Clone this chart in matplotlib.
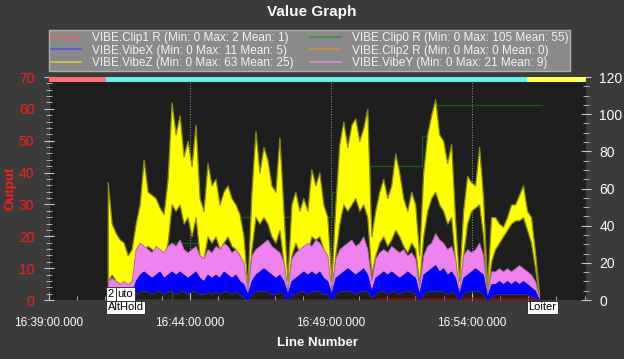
import numpy as np
import pandas as pd
import matplotlib
matplotlib.use('Agg')
import matplotlib.pyplot as plt
import matplotlib.dates as mdates
from matplotlib.lines import Line2D

plt.rcParams['font.family'] = ['Liberation Sans', 'DejaVu Sans']

day = '2000-01-01 '

# VIBE log, one sample every 8.5 s from 16:41:05
t_start = '16:41:05'
t_step = 8.5

# VibeZ (upper / lower of the trace band)
vibe_z_hi = [37, 24, 21, 19, 18, 14, 16, 24, 30, 44,
             34, 33, 32, 29, 27, 38, 62, 52, 58, 45,
             50, 42, 55, 32, 28, 43, 36, 38, 30, 34,
             36, 32, 30, 27, 20, 4, 34, 53, 40, 48,
             44, 36, 34, 51, 28, 6, 30, 34, 28, 32,
             28, 41, 36, 40, 30, 26, 6, 30, 49, 56,
             48, 55, 57, 50, 54, 60, 20, 28, 34, 38,
             32, 36, 46, 40, 32, 28, 34, 30, 14, 40,
             52, 58, 63, 52, 50, 43, 49, 25, 6, 28,
             39, 37, 36, 48, 32, 4, 26, 26, 24, 23,
             26, 30, 30, 33, 36, 28, 26, 15, 2]
vibe_z_lo = [6, 8, 6, 5, 5, 4, 5, 12, 14, 16,
             17, 16, 15, 14, 13, 18, 30, 28, 30, 24,
             26, 20, 26, 14, 13, 20, 18, 20, 16, 18,
             20, 17, 16, 14, 8, 1, 16, 26, 24, 26,
             24, 20, 18, 22, 12, 2, 14, 18, 15, 17,
             15, 20, 19, 20, 16, 12, 2, 14, 24, 30,
             28, 30, 32, 28, 30, 26, 8, 14, 18, 20,
             17, 19, 22, 20, 17, 15, 18, 16, 5, 20,
             28, 32, 34, 30, 28, 24, 26, 12, 2, 14,
             24, 28, 29, 30, 20, 1, 12, 16, 18, 20,
             22, 24, 25, 25, 26, 22, 18, 10, 1]
# VibeY upper
vibe_y_hi = [6, 7, 6, 5, 6, 5, 6, 16, 18, 17,
             16, 15, 17, 16, 15, 17, 18, 17, 19, 16,
             15, 16, 17, 14, 13, 16, 15, 17, 16, 18,
             17, 15, 16, 14, 12, 3, 14, 16, 17, 18,
             19, 17, 16, 15, 12, 3, 13, 15, 16, 17,
             18, 17, 19, 18, 16, 14, 3, 13, 16, 17,
             18, 19, 17, 18, 20, 16, 6, 13, 15, 16,
             15, 17, 16, 15, 16, 14, 15, 13, 4, 14,
             17, 18, 21, 19, 18, 16, 17, 13, 3, 14,
             16, 15, 16, 18, 14, 2, 9, 9, 10, 9,
             10, 9, 10, 11, 10, 9, 8, 6, 1]
# VibeX upper
vibe_x_hi = [1, 1, 1, 1, 1, 1, 2, 6, 8, 9,
             8, 7, 8, 9, 7, 8, 9, 8, 9, 8,
             7, 8, 9, 7, 6, 8, 7, 8, 7, 9,
             8, 7, 8, 6, 5, 2, 6, 8, 9, 10,
             9, 8, 7, 8, 6, 2, 6, 7, 8, 9,
             8, 9, 8, 9, 7, 6, 2, 7, 8, 9,
             10, 9, 8, 9, 10, 8, 3, 7, 8, 9,
             8, 9, 8, 7, 8, 9, 8, 7, 2, 8,
             9, 10, 11, 9, 10, 8, 9, 7, 2, 7,
             8, 9, 10, 9, 8, 1, 5, 5, 6, 5,
             6, 5, 6, 5, 6, 5, 4, 3, 0]
# lowest level of VibeX / VibeY
vibe_floor = [0, 0, 0, 0, 0, 0, 0, 2, 3, 3,
              3, 2, 3, 3, 2, 3, 3, 2, 3, 3,
              2, 3, 3, 2, 2, 3, 2, 3, 2, 3,
              3, 2, 3, 2, 1, 0, 2, 3, 3, 3,
              3, 2, 2, 3, 2, 0, 2, 2, 3, 3,
              2, 3, 3, 3, 2, 2, 0, 2, 3, 3,
              3, 3, 2, 3, 3, 3, 1, 2, 3, 3,
              2, 3, 3, 2, 3, 3, 3, 2, 0, 2,
              3, 3, 3, 3, 3, 2, 3, 2, 0, 2,
              3, 3, 3, 3, 2, 0, 1, 2, 2, 2,
              2, 2, 2, 2, 2, 2, 1, 1, 0]

# clip counters (right axis), step values
clip0_times = ['16:41:05', '16:43:22', '16:44:32', '16:49:02', '16:50:23', '16:52:14', '16:52:41', '16:56:29']
clip0_vals = [0, 30.5, 44.5, 58, 72, 88, 105, 105]
clip1_times = ['16:46:29', '16:50:38', '16:56:20']
clip1_vals = [0, 1, 1]
clip2_times = ['16:41:05', '16:56:29']
clip2_vals = [0, 0]

# flight modes
mode_times = ['16:39:00', '16:41:02', '16:55:57', '16:58:03']
mode_colors = ['#ff6f6f', '#5ff0f0', '#ffff5c']

x_range = ['16:39:00', '16:58:03']

legend_labels = ['VIBE.Clip1 R (Min: 0 Max: 2 Mean: 1)',
                 'VIBE.VibeX (Min: 0 Max: 11 Mean: 5)',
                 'VIBE.VibeZ (Min: 0 Max: 63 Mean: 25)',
                 'VIBE.Clip0 R (Min: 0 Max: 105 Mean: 55)',
                 'VIBE.Clip2 R (Min: 0 Max: 0 Mean: 0)',
                 'VIBE.VibeY (Min: 0 Max: 21 Mean: 9)']
legend_colors = ['#e86464', '#5555d8', '#d4cc3c', '#3f8f3f', '#c0943e', '#d58fd5']


def to_time(s):
    return pd.to_datetime([day + v for v in s])


t = pd.to_datetime(day + t_start) + pd.to_timedelta(np.arange(len(vibe_z_hi)) * t_step, unit='s')

bg = '#3b3b3b'
red = '#ff1a1a'
fig = plt.figure(figsize=(6.24, 3.59), dpi=100, facecolor=bg)

ax2 = fig.add_axes([0.0785, 0.1643, 0.8606, 0.6212])
ax = fig.add_axes([0.0785, 0.1643, 0.8606, 0.6212], sharex=ax2)
ax2.yaxis.tick_right()
ax2.yaxis.set_label_position('right')
ax2.set_facecolor('#1e1e1e')
ax.set_facecolor('none')
ax.xaxis.set_visible(False)
ax.yaxis.tick_left()

# right axis: clip counters
ax2.plot(to_time(clip0_times), clip0_vals, drawstyle='steps-post', color='#1d5a1d', lw=1)
ax2.plot(to_time(clip2_times), clip2_vals, color='#8a6a2a', lw=1)
ax2.plot(to_time(clip1_times), clip1_vals, drawstyle='steps-post', color='#a00000', lw=1)
ax2.set_ylim(0, 120)

# left axis: vibrations
ax.fill_between(t, vibe_z_lo, vibe_z_hi, color='#ffff00', lw=0.9, edgecolor='#8c8c14')
ax.fill_between(t, vibe_floor, vibe_y_hi, color='#ee82ee', lw=0.6, edgecolor='#a868a8')
ax.fill_between(t, vibe_floor, vibe_x_hi, color='#0000ff', lw=0.5, edgecolor='#0000c0')
ax.set_ylim(0, 70)

xr = to_time(x_range)
ax2.set_xlim(xr[0], xr[1])

# flight mode strip
mt = to_time(mode_times)
for i, c in enumerate(mode_colors):
    ax.axvspan(mt[i], mt[i + 1], ymin=0.978, ymax=1.0, color=c, lw=0, zorder=5)

# grid / ticks
ax2.xaxis.set_major_locator(mdates.MinuteLocator(byminute=[39, 44, 49, 54]))
ax2.xaxis.set_minor_locator(mdates.MinuteLocator())
ax2.xaxis.set_major_formatter(mdates.DateFormatter('%H:%M:%S.000'))
ax2.grid(axis='x', which='major', color='#9a9a9a', ls=':', lw=0.7)
ax2.tick_params(axis='x', which='major', direction='in', length=5, colors='#c8c8c8',
                labelcolor='white', labelsize=8.5, pad=12)
ax2.tick_params(axis='x', which='minor', direction='in', length=3, colors='#c8c8c8')
ax2.yaxis.set_major_locator(plt.MultipleLocator(20))
ax2.yaxis.set_minor_locator(plt.MultipleLocator(5))
ax2.tick_params(axis='y', which='major', direction='inout', length=7, colors='#c8c8c8',
                labelcolor='white', labelsize=10, pad=6)
ax2.tick_params(axis='y', which='minor', direction='inout', length=4, colors='#c8c8c8')
ax.yaxis.set_major_locator(plt.MultipleLocator(10))
ax.yaxis.set_minor_locator(plt.MultipleLocator(2))
ax.tick_params(axis='y', which='major', direction='inout', length=7, colors='#c8c8c8',
               labelcolor=red, labelsize=10, pad=7)
ax.tick_params(axis='y', which='minor', direction='inout', length=4, colors='#c8c8c8')
for a in (ax, ax2):
    for s in a.spines.values():
        s.set_visible(False)

ax.set_ylabel('Output', color=red, fontsize=9.5, fontweight='bold')
ax.yaxis.set_label_coords(-0.06, 0.5)
ax2.set_xlabel('Line Number', color='white', fontsize=9.5, fontweight='bold', labelpad=6)

# mode labels ("2" box sits where the "A" of Auto would be)
box = dict(facecolor='white', edgecolor='#202020', lw=0.6, boxstyle='square,pad=0.15')
ax.annotate('2', xy=(mt[1], 0.005), xycoords=('data', 'axes fraction'),
            xytext=(1, 0), textcoords='offset points', fontsize=8, color='black',
            va='bottom', ha='left', bbox=box, zorder=7)
ax.annotate('uto', xy=(mt[1], 0.005), xycoords=('data', 'axes fraction'),
            xytext=(8.2, 0), textcoords='offset points', fontsize=8, color='black',
            va='bottom', ha='left', bbox=box, zorder=6)
ax.annotate('AltHold', xy=(mt[1], -0.01), xycoords=('data', 'axes fraction'),
            xytext=(1, 0), textcoords='offset points', fontsize=8, color='black',
            va='top', ha='left', bbox=box, zorder=7, annotation_clip=False)
ax.annotate('Loiter', xy=(mt[2], -0.01), xycoords=('data', 'axes fraction'),
            xytext=(1, 0), textcoords='offset points', fontsize=8, color='black',
            va='top', ha='left', bbox=box, zorder=7, annotation_clip=False)

fig.text(0.5, 1 - 12 / 359, 'Value Graph', ha='center', va='center', color='white',
         fontsize=11, fontweight='bold')

handles = [Line2D([], [], color=c, lw=1.2) for c in legend_colors]
leg = fig.legend(handles, legend_labels, ncol=2, loc='upper left',
                 bbox_to_anchor=(0.0785, 0.805, 0.835, 0.111), mode='expand',
                 borderaxespad=0, fontsize=8.5, frameon=True, fancybox=False,
                 facecolor='#8a8a8a', edgecolor='#b0b0b0', framealpha=1,
                 labelspacing=0.05, borderpad=0.15, handlelength=2.6, handletextpad=0.9)
for txt in leg.get_texts():
    txt.set_color('#f4f4f4')

fig.savefig('out.png', dpi=100, facecolor=bg)
